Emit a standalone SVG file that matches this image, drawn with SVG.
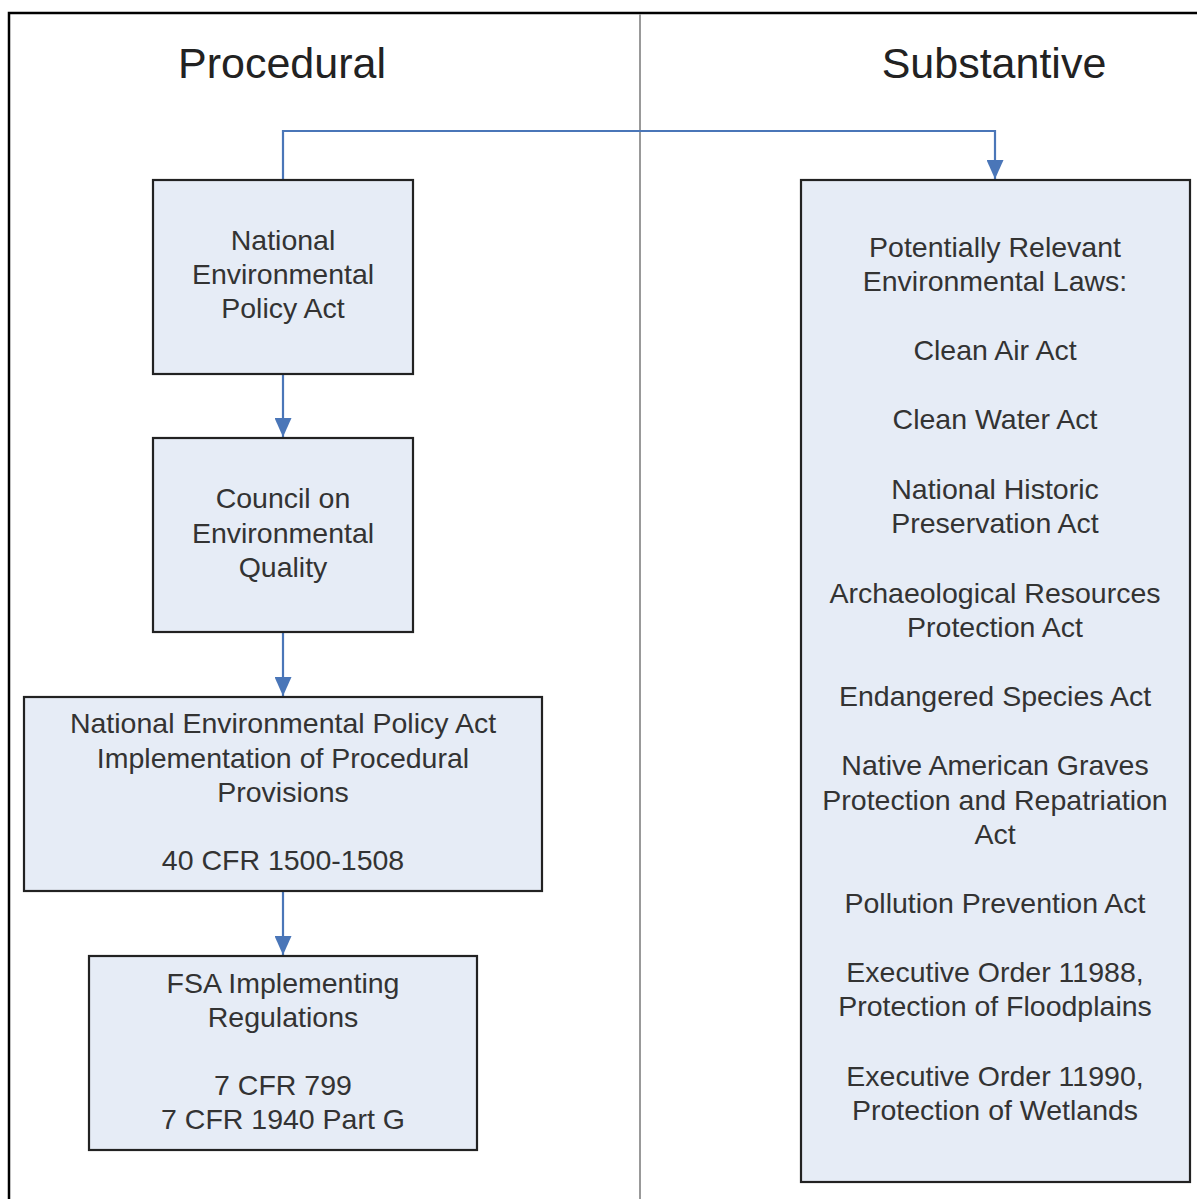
<svg xmlns="http://www.w3.org/2000/svg" width="1197" height="1199" viewBox="0 0 1197 1199">
<defs>
<style>
.box{fill:#e6ecf6;stroke:#222;stroke-width:2.2}
.t{font-family:"Liberation Sans",Arial,sans-serif;font-size:28.5px;fill:#333;text-anchor:middle}
.h{font-family:"Liberation Sans",Arial,sans-serif;font-size:43px;fill:#222;text-anchor:middle}
.c{fill:none;stroke:#4a76b8;stroke-width:2.2}
</style>
<marker id="ah" markerWidth="19" markerHeight="17" refX="19" refY="8.5" orient="auto" markerUnits="userSpaceOnUse" viewBox="0 0 19 17">
<path d="M0,0 L19,8.5 L0,17 Z" fill="#4a76b8"/>
</marker>
</defs>
<rect x="0" y="0" width="1197" height="1199" fill="#fff"/>
<rect x="9" y="13" width="1200" height="1200" fill="none" stroke="#000" stroke-width="2.5"/>
<line x1="640" y1="14" x2="640" y2="1199" stroke="#999" stroke-width="2"/>
<text class="h" x="282" y="78">Procedural</text>
<text class="h" x="994" y="78">Substantive</text>
<g id="connectors">
<path class="c" d="M283,180 V131 H995 V179" marker-end="url(#ah)"/>
<line class="c" x1="283" y1="374" x2="283" y2="437" marker-end="url(#ah)"/>
<line class="c" x1="283" y1="632" x2="283" y2="696" marker-end="url(#ah)"/>
<line class="c" x1="283" y1="891" x2="283" y2="955" marker-end="url(#ah)"/>
</g>
<g id="nepa">
<rect class="box" x="153" y="180" width="260" height="194"/>
<text class="t" x="283" y="250">National</text>
<text class="t" x="283" y="284">Environmental</text>
<text class="t" x="283" y="318">Policy Act</text>
</g>
<g id="ceq">
<rect class="box" x="153" y="438" width="260" height="194"/>
<text class="t" x="283" y="508">Council on</text>
<text class="t" x="283" y="543">Environmental</text>
<text class="t" x="283" y="577">Quality</text>
</g>
<g id="cfr40">
<rect class="box" x="24" y="697" width="518" height="194"/>
<text class="t" x="283" y="733">National Environmental Policy Act</text>
<text class="t" x="283" y="768">Implementation of Procedural</text>
<text class="t" x="283" y="802">Provisions</text>
<text class="t" x="283" y="870">40 CFR 1500-1508</text>
</g>
<g id="fsa">
<rect class="box" x="89" y="956" width="388" height="194"/>
<text class="t" x="283" y="993">FSA Implementing</text>
<text class="t" x="283" y="1027">Regulations</text>
<text class="t" x="283" y="1095">7 CFR 799</text>
<text class="t" x="283" y="1129">7 CFR 1940 Part G</text>
</g>
<g id="laws">
<rect class="box" x="801" y="180" width="389" height="1002"/>
<text class="t" x="995" y="257">Potentially Relevant</text>
<text class="t" x="995" y="291">Environmental Laws:</text>
<text class="t" x="995" y="360">Clean Air Act</text>
<text class="t" x="995" y="429">Clean Water Act</text>
<text class="t" x="995" y="499">National Historic</text>
<text class="t" x="995" y="533">Preservation Act</text>
<text class="t" x="995" y="603">Archaeological Resources</text>
<text class="t" x="995" y="637">Protection Act</text>
<text class="t" x="995" y="706">Endangered Species Act</text>
<text class="t" x="995" y="775">Native American Graves</text>
<text class="t" x="995" y="810">Protection and Repatriation</text>
<text class="t" x="995" y="844">Act</text>
<text class="t" x="995" y="913">Pollution Prevention Act</text>
<text class="t" x="995" y="982">Executive Order 11988,</text>
<text class="t" x="995" y="1016">Protection of Floodplains</text>
<text class="t" x="995" y="1086">Executive Order 11990,</text>
<text class="t" x="995" y="1120">Protection of Wetlands</text>
</g>
</svg>
